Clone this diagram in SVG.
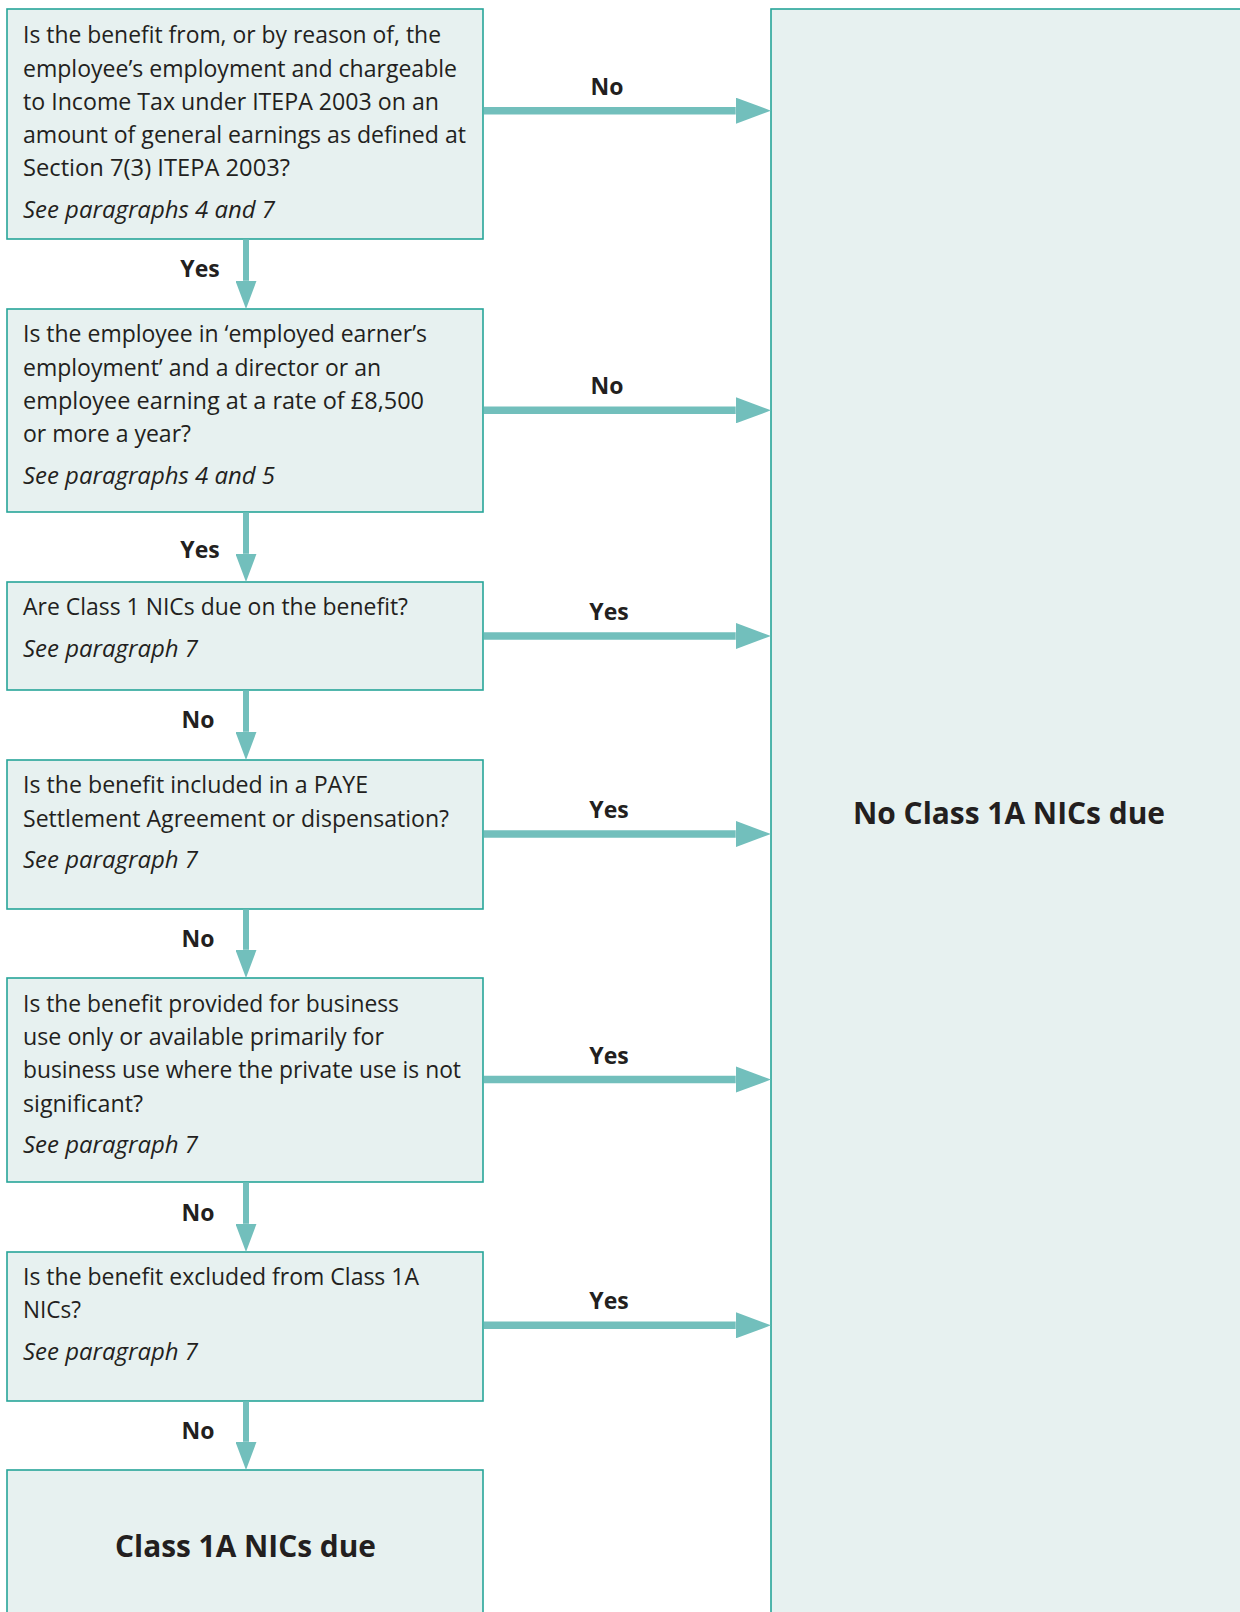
<svg xmlns="http://www.w3.org/2000/svg" width="1240" height="1612" viewBox="0 0 1240 1612">
<style>
.box{fill:#e7f1f0;stroke:#27a599;stroke-width:1.6}
.t{font-family:"Open Sans","Liberation Sans",sans-serif;font-size:23px;fill:#231f20}
.i{font-family:"Open Sans","Liberation Sans",sans-serif;font-size:23px;font-style:italic;fill:#231f20}
.lbl{font-family:"Open Sans","Liberation Sans",sans-serif;font-size:23px;font-weight:bold;fill:#231f20;text-anchor:middle}
.big{font-family:"Open Sans","Liberation Sans",sans-serif;font-size:31px;font-weight:bold;fill:#231f20;text-anchor:middle}
.h{stroke:#72bfbc;stroke-width:7.5;fill:none;marker-end:url(#ah)}
.v{stroke:#72bfbc;stroke-width:6;fill:none;marker-end:url(#ah)}
</style>
<defs>
<marker id="ah" viewBox="0 0 4.7 3.5" refX="0" refY="1.75" markerWidth="4.7" markerHeight="3.5" markerUnits="strokeWidth" orient="auto">
<path d="M0,0 L4.7,1.75 L0,3.5 z" fill="#72bfbc"/>
</marker>
</defs>
<rect width="1240" height="1612" fill="#ffffff"/>

<g id="n_no_class">
<rect class="box" x="771" y="9" width="480" height="1620"/>
<text class="big" x="1009" y="824" textLength="312" lengthAdjust="spacingAndGlyphs">No Class 1A NICs due</text>
</g>

<g id="q1">
<rect class="box" x="7" y="9" width="476" height="230"/>
<text class="t" x="23" y="43.3" textLength="418" lengthAdjust="spacingAndGlyphs">Is the benefit from, or by reason of, the</text>
<text class="t" x="23" y="76.5" textLength="434" lengthAdjust="spacingAndGlyphs">employee’s employment and chargeable</text>
<text class="t" x="23" y="109.5" textLength="416" lengthAdjust="spacingAndGlyphs">to Income Tax under ITEPA 2003 on an</text>
<text class="t" x="23" y="142.7" textLength="443" lengthAdjust="spacingAndGlyphs">amount of general earnings as defined at</text>
<text class="t" x="23" y="176" textLength="267" lengthAdjust="spacingAndGlyphs">Section 7(3) ITEPA 2003?</text>
<text class="i" x="23" y="218.3" textLength="252" lengthAdjust="spacingAndGlyphs">See paragraphs 4 and 7</text>
</g>

<g id="q2">
<rect class="box" x="7" y="309" width="476" height="203"/>
<text class="t" x="23" y="342.3" textLength="404" lengthAdjust="spacingAndGlyphs">Is the employee in ‘employed earner’s</text>
<text class="t" x="23" y="376" textLength="358" lengthAdjust="spacingAndGlyphs">employment’ and a director or an</text>
<text class="t" x="23" y="409" textLength="401" lengthAdjust="spacingAndGlyphs">employee earning at a rate of £8,500</text>
<text class="t" x="23" y="441.7" textLength="168" lengthAdjust="spacingAndGlyphs">or more a year?</text>
<text class="i" x="23" y="484" textLength="252" lengthAdjust="spacingAndGlyphs">See paragraphs 4 and 5</text>
</g>

<g id="q3">
<rect class="box" x="7" y="582" width="476" height="108"/>
<text class="t" x="23" y="615" textLength="385" lengthAdjust="spacingAndGlyphs">Are Class 1 NICs due on the benefit?</text>
<text class="i" x="23" y="657.3" textLength="175" lengthAdjust="spacingAndGlyphs">See paragraph 7</text>
</g>

<g id="q4">
<rect class="box" x="7" y="760" width="476" height="149"/>
<text class="t" x="23" y="793.3" textLength="345" lengthAdjust="spacingAndGlyphs">Is the benefit included in a PAYE</text>
<text class="t" x="23" y="826.7" textLength="426" lengthAdjust="spacingAndGlyphs">Settlement Agreement or dispensation?</text>
<text class="i" x="23" y="868.3" textLength="175" lengthAdjust="spacingAndGlyphs">See paragraph 7</text>
</g>

<g id="q5">
<rect class="box" x="7" y="978" width="476" height="204"/>
<text class="t" x="23" y="1011.7" textLength="376" lengthAdjust="spacingAndGlyphs">Is the benefit provided for business</text>
<text class="t" x="23" y="1045" textLength="361" lengthAdjust="spacingAndGlyphs">use only or available primarily for</text>
<text class="t" x="23" y="1078.3" textLength="438" lengthAdjust="spacingAndGlyphs">business use where the private use is not</text>
<text class="t" x="23" y="1111.7" textLength="120" lengthAdjust="spacingAndGlyphs">significant?</text>
<text class="i" x="23" y="1153.3" textLength="175" lengthAdjust="spacingAndGlyphs">See paragraph 7</text>
</g>

<g id="q6">
<rect class="box" x="7" y="1252" width="476" height="149"/>
<text class="t" x="23" y="1285" textLength="396" lengthAdjust="spacingAndGlyphs">Is the benefit excluded from Class 1A</text>
<text class="t" x="23" y="1318.3" textLength="58" lengthAdjust="spacingAndGlyphs">NICs?</text>
<text class="i" x="23" y="1360" textLength="175" lengthAdjust="spacingAndGlyphs">See paragraph 7</text>
</g>

<g id="n_class_due">
<rect class="box" x="7" y="1470" width="476" height="160"/>
<text class="big" x="245.5" y="1556.7" textLength="261" lengthAdjust="spacingAndGlyphs">Class 1A NICs due</text>
</g>

<g id="connectors">
<line class="h" x1="484" y1="110.7" x2="735.7" y2="110.7"/>
<text class="lbl" x="607" y="94.5">No</text>
<line class="h" x1="484" y1="410.3" x2="735.7" y2="410.3"/>
<text class="lbl" x="607" y="394">No</text>
<line class="h" x1="484" y1="636" x2="735.7" y2="636"/>
<text class="lbl" x="609" y="620">Yes</text>
<line class="h" x1="484" y1="834" x2="735.7" y2="834"/>
<text class="lbl" x="609" y="818">Yes</text>
<line class="h" x1="484" y1="1079.6" x2="735.7" y2="1079.6"/>
<text class="lbl" x="609" y="1063.6">Yes</text>
<line class="h" x1="484" y1="1325.3" x2="735.7" y2="1325.3"/>
<text class="lbl" x="609" y="1309.3">Yes</text>

<line class="v" x1="246" y1="239.5" x2="246" y2="280.8"/>
<text class="lbl" x="200" y="276.7">Yes</text>
<line class="v" x1="246" y1="512.5" x2="246" y2="553.8"/>
<text class="lbl" x="200" y="558.3">Yes</text>
<line class="v" x1="246" y1="690.5" x2="246" y2="731.8"/>
<text class="lbl" x="198" y="728.3">No</text>
<line class="v" x1="246" y1="909.5" x2="246" y2="949.8"/>
<text class="lbl" x="198" y="946.7">No</text>
<line class="v" x1="246" y1="1182.5" x2="246" y2="1223.8"/>
<text class="lbl" x="198" y="1220.7">No</text>
<line class="v" x1="246" y1="1401.5" x2="246" y2="1441.8"/>
<text class="lbl" x="198" y="1439.3">No</text>
</g>
</svg>
